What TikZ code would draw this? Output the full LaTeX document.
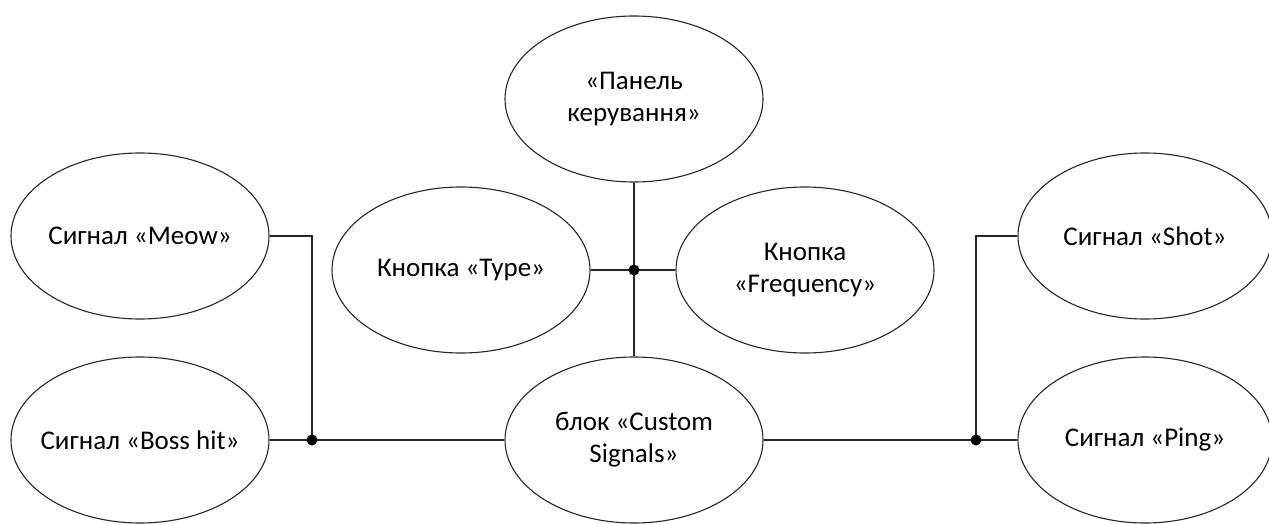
\documentclass[tikz,border=0pt]{standalone}
\usepackage{fontspec}
\setmainfont{Carlito}
\usetikzlibrary{shapes.geometric}

\begin{document}
\begin{tikzpicture}[x=1pt, y=-1pt,
  usecase/.style={ellipse, draw=black!85, line width=1.1pt, fill=white,
    minimum width=258pt, minimum height=166pt, inner ysep=0pt, inner xsep=-40pt,
    align=center, font=\fontsize{27}{32}\selectfont},
  wire/.style={draw=black!85, line width=1.1pt},
  junction/.style={circle, fill=black, inner sep=0pt, minimum size=11pt}]
\useasboundingbox (0,0) rectangle (1269,524);

% use cases
\node[usecase] (panel)  at (634,99)   {«Панель\\керування»};
\node[usecase] (meow)   at (140,236)  {Сигнал «Meow»};
\node[usecase] (boss)   at (140,440)  {Сигнал «Boss hit»};
\node[usecase] (type)   at (461,270)  {Кнопка «Type»};
\node[usecase] (freq)   at (805,270)  {Кнопка\\«Frequency»};
\node[usecase] (custom) at (634,440)  {блок «Custom\\Signals»};
\node[usecase, minimum width=254pt] (shot) at (1145,236) {Сигнал «Shot»};
\node[usecase, minimum width=254pt] (ping) at (1145,440) {Сигнал «Ping»};

% branch points
\coordinate (jl) at (312,440);
\coordinate (jr) at (976,440);
\coordinate (jc) at (634,270);

% connectors
\draw[wire] (meow.east) -| (jl);
\draw[wire] (boss.east) -- (jl) -- (custom.west);
\draw[wire] (custom.east) -- (jr) -- (ping.west);
\draw[wire] (shot.west) -| (jr);
\draw[wire] (panel.south) -- (custom.north);
\draw[wire] (type.east) -- (freq.west);

% junction dots
\node[junction] (dl) at (jl) {};
\node[junction] (dr) at (jr) {};
\node[junction] (dc) at (jc) {};
\end{tikzpicture}
\end{document}
